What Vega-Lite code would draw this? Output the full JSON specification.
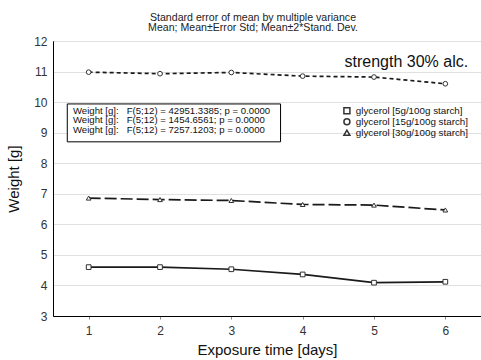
{
  "$schema": "https://vega.github.io/schema/vega-lite/v6.json",
  "width": 428,
  "height": 275,
  "autosize": {"type": "none"},
  "padding": {"left": 53, "top": 41, "right": 0, "bottom": 44},
  "background": "white",
  "config": {
    "font": "Liberation Sans",
    "view": {"stroke": "black", "strokeWidth": 1},
    "axis": {"labelFont": "Liberation Sans", "titleFont": "Liberation Sans", "labelColor": "#333", "titleColor": "#111", "titleFontWeight": "normal", "gridColor": "#e0e0e0", "domainColor": "black", "labelOverlap": false}
  },
  "title": {
    "text": ["Standard error of mean by multiple variance", "Mean; Mean±Error Std; Mean±2*Stand. Dev."],
    "fontSize": 10.6,
    "fontWeight": "normal",
    "font": "Liberation Sans",
    "color": "#222",
    "anchor": "middle",
    "dx": -14,
    "dy": 4,
    "offset": 5,
    "lineHeight": 10.5
  },
  "datasets": {
    "series": [
      {"day": 1, "weight": 4.60, "group": "glycerol [5g/100g starch]"},
      {"day": 2, "weight": 4.60, "group": "glycerol [5g/100g starch]"},
      {"day": 3, "weight": 4.53, "group": "glycerol [5g/100g starch]"},
      {"day": 4, "weight": 4.36, "group": "glycerol [5g/100g starch]"},
      {"day": 5, "weight": 4.09, "group": "glycerol [5g/100g starch]"},
      {"day": 6, "weight": 4.12, "group": "glycerol [5g/100g starch]"},
      {"day": 1, "weight": 10.98, "group": "glycerol [15g/100g starch]"},
      {"day": 2, "weight": 10.93, "group": "glycerol [15g/100g starch]"},
      {"day": 3, "weight": 10.97, "group": "glycerol [15g/100g starch]"},
      {"day": 4, "weight": 10.85, "group": "glycerol [15g/100g starch]"},
      {"day": 5, "weight": 10.82, "group": "glycerol [15g/100g starch]"},
      {"day": 6, "weight": 10.60, "group": "glycerol [15g/100g starch]"},
      {"day": 1, "weight": 6.86, "group": "glycerol [30g/100g starch]"},
      {"day": 2, "weight": 6.81, "group": "glycerol [30g/100g starch]"},
      {"day": 3, "weight": 6.78, "group": "glycerol [30g/100g starch]"},
      {"day": 4, "weight": 6.65, "group": "glycerol [30g/100g starch]"},
      {"day": 5, "weight": 6.63, "group": "glycerol [30g/100g starch]"},
      {"day": 6, "weight": 6.47, "group": "glycerol [30g/100g starch]"}
    ],
    "stats": [
      {"day": 0.78, "weight": 9.72, "label": "Weight [g]:\u00a0\u00a0 F(5;12) = 42951.3385; p = 0.0000"},
      {"day": 0.78, "weight": 9.41, "label": "Weight [g]:\u00a0\u00a0 F(5;12) = 1454.6561; p = 0.0000"},
      {"day": 0.78, "weight": 9.10, "label": "Weight [g]:\u00a0\u00a0 F(5;12) = 7257.1203; p = 0.0000"}
    ],
    "box": [{"day": 0.70, "day2": 3.69, "weight": 9.94, "weight2": 8.70}],
    "note": [{"day": 6.32, "weight": 11.3, "label": "strength 30% alc."}]
  },
  "encoding": {
    "x": {"field": "day", "type": "quantitative", "scale": {"domain": [0.5, 6.5], "nice": false, "zero": false},
      "axis": {"title": "Exposure time [days]", "values": [1, 2, 3, 4, 5, 6], "format": "d", "grid": false, "labelFontSize": 12, "titleFontSize": 15, "tickSize": 3, "tickColor": "#888", "labelPadding": 6, "titlePadding": 6}},
    "y": {"field": "weight", "type": "quantitative", "scale": {"domain": [3, 12], "nice": false, "zero": false},
      "axis": {"title": "Weight [g]", "values": [3, 4, 5, 6, 7, 8, 9, 10, 11, 12], "format": "d", "grid": true, "labelFontSize": 12, "titleFontSize": 15, "tickSize": 0, "labelPadding": 6, "titlePadding": 12}}
  },
  "layer": [
    {
      "data": {"name": "series"},
      "transform": [{"filter": "datum.group == 'glycerol [5g/100g starch]'"}],
      "mark": {"type": "line", "color": "#1a1a1a", "strokeWidth": 1.7}
    },
    {
      "data": {"name": "series"},
      "transform": [{"filter": "datum.group == 'glycerol [15g/100g starch]'"}],
      "mark": {"type": "line", "color": "#1a1a1a", "strokeWidth": 1.7, "strokeDash": [4, 3]}
    },
    {
      "data": {"name": "series"},
      "transform": [{"filter": "datum.group == 'glycerol [30g/100g starch]'"}],
      "mark": {"type": "line", "color": "#1a1a1a", "strokeWidth": 1.7, "strokeDash": [12, 4]}
    },
    {
      "data": {"name": "series"},
      "mark": {"type": "point", "filled": true, "fill": "white", "stroke": "#333", "strokeWidth": 1, "size": 22, "opacity": 1},
      "encoding": {
        "shape": {"field": "group", "type": "nominal",
          "scale": {"domain": ["glycerol [5g/100g starch]", "glycerol [15g/100g starch]", "glycerol [30g/100g starch]"], "range": ["square", "circle", "triangle-up"]},
          "legend": {"title": null, "orient": "none", "legendX": 289, "legendY": 65, "labelFontSize": 9.8, "labelFont": "Liberation Sans", "labelColor": "#111", "symbolSize": 36, "rowPadding": 0, "clipHeight": 9.5, "labelOffset": 4, "padding": 0,
            "encode": {"symbols": {"update": {"fill": {"value": "white"}, "stroke": {"value": "#333"}, "strokeWidth": {"value": 1}, "opacity": {"value": 1}}}}}}
      }
    },
    {
      "data": {"name": "box"},
      "mark": {"type": "rect", "fill": "white", "stroke": "black", "strokeWidth": 1},
      "encoding": {
        "x2": {"field": "day2"},
        "y2": {"field": "weight2"}
      }
    },
    {
      "data": {"name": "stats"},
      "mark": {"type": "text", "align": "left", "baseline": "middle", "fontSize": 9.6, "font": "Liberation Sans", "color": "#111"},
      "encoding": {
        "text": {"field": "label"}
      }
    },
    {
      "data": {"name": "note"},
      "mark": {"type": "text", "align": "right", "baseline": "middle", "fontSize": 16, "font": "Liberation Sans", "color": "#111"},
      "encoding": {
        "text": {"field": "label"}
      }
    }
  ]
}
